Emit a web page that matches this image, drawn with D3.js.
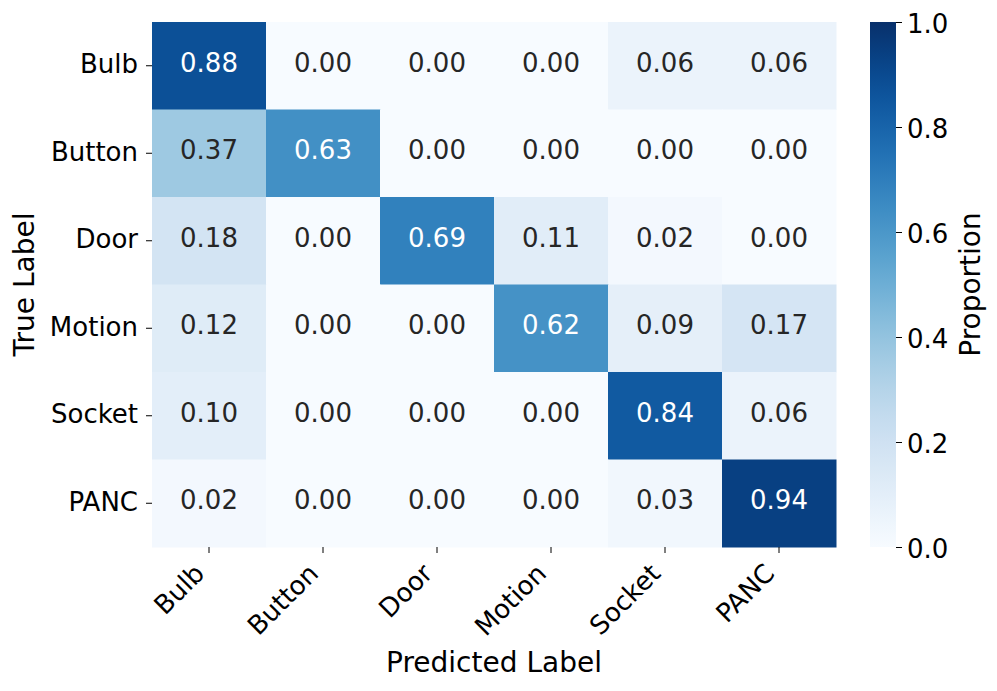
<!DOCTYPE html>
<html><head><meta charset="utf-8">
<script src="https://cdn.jsdelivr.net/npm/d3@7"></script>
<style>body{margin:0;background:#fff}svg{font-family:"DejaVu Sans",sans-serif}</style>
</head><body><svg id="c" width="997" height="691"></svg>
<script>
const predLabels = ["Bulb","Button","Door","Motion","Socket","PANC"];
const trueLabels = ["Bulb","Button","Door","Motion","Socket","PANC"];
const values = [
  [0.88,0.00,0.00,0.00,0.06,0.06],
  [0.37,0.63,0.00,0.00,0.00,0.00],
  [0.18,0.00,0.69,0.11,0.02,0.00],
  [0.12,0.00,0.00,0.62,0.09,0.17],
  [0.10,0.00,0.00,0.00,0.84,0.06],
  [0.02,0.00,0.00,0.00,0.03,0.94]
];
const cbTicks = [0.0,0.2,0.4,0.6,0.8,1.0];

const svg = d3.select("#c");
const L=152,R=836,T=22,B=547;
const FS=26, LFS=28;
const x = d3.scaleBand().domain(predLabels).range([L,R]);
const y = d3.scaleBand().domain(trueLabels).range([T,B]);
const color = d3.scaleSequential(d3.interpolateBlues).domain([0,1]);

const cells=[];
values.forEach((row,i)=>row.forEach((v,j)=>cells.push({r:trueLabels[i],c:predLabels[j],v})));
svg.selectAll("rect.cell").data(cells).join("rect").attr("class","cell")
  .attr("x",d=>x(d.c)).attr("y",d=>y(d.r)).attr("width",x.bandwidth()+0.5).attr("height",y.bandwidth()+0.5)
  .attr("fill",d=>color(d.v));
svg.selectAll("text.ann").data(cells).join("text").attr("class","ann")
  .attr("x",d=>x(d.c)+x.bandwidth()/2).attr("y",d=>y(d.r)+y.bandwidth()/2-3)
  .attr("text-anchor","middle").attr("dominant-baseline","central")
  .attr("font-size",FS).attr("fill",d=>d.v>0.5?"#ffffff":"#262626")
  .text(d=>d.v.toFixed(2));

// x axis
const xa = svg.append("g").attr("transform",`translate(0,${B})`).call(d3.axisBottom(x).tickSize(6).tickSizeOuter(0));
xa.select(".domain").remove();
xa.selectAll(".tick line").attr("stroke","#000").attr("stroke-width",1);
xa.selectAll(".tick text").attr("font-size",FS).attr("fill","#000").attr("font-family","DejaVu Sans")
  .attr("text-anchor","end").attr("dy",0).attr("y",0)
  .attr("transform","translate(-3,28) rotate(-45)");
// y axis
const ya = svg.append("g").attr("transform",`translate(${L},0)`).call(d3.axisLeft(y).tickSize(6).tickSizeOuter(0));
ya.select(".domain").remove();
ya.selectAll(".tick line").attr("stroke","#000");
ya.selectAll(".tick text").attr("font-size",FS).attr("fill","#000").attr("font-family","DejaVu Sans").attr("x",-14).attr("dy","0.28em");

svg.append("text").attr("x",(L+R)/2).attr("y",672).attr("text-anchor","middle").attr("font-size",LFS).text("Predicted Label");
svg.append("text").attr("transform",`translate(34,${(T+B)/2}) rotate(-90)`).attr("text-anchor","middle").attr("font-size",LFS).text("True Label");

// colorbar
const cbX=870,cbW=26;
const defs=svg.append("defs");
const g=defs.append("linearGradient").attr("id","cb").attr("x1",0).attr("y1",1).attr("x2",0).attr("y2",0);
d3.range(0,1.0001,0.05).forEach(t=>g.append("stop").attr("offset",t).attr("stop-color",color(t)));
svg.append("rect").attr("x",cbX).attr("y",T).attr("width",cbW).attr("height",B-T).attr("fill","url(#cb)");
const cy=d3.scaleLinear().domain([0,1]).range([B,T]);
const ca=svg.append("g").attr("transform",`translate(${cbX+cbW},0)`).call(d3.axisRight(cy).tickValues(cbTicks).tickFormat(d3.format(".1f")).tickSize(6));
ca.select(".domain").remove();
ca.selectAll(".tick line").attr("stroke","#000");
ca.selectAll(".tick text").attr("font-size",FS).attr("fill","#000").attr("font-family","DejaVu Sans").attr("x",11).attr("dy","0.42em");
svg.append("text").attr("transform",`translate(980,${(T+B)/2}) rotate(-90)`).attr("text-anchor","middle").attr("font-size",LFS).text("Proportion");
</script></body></html>
